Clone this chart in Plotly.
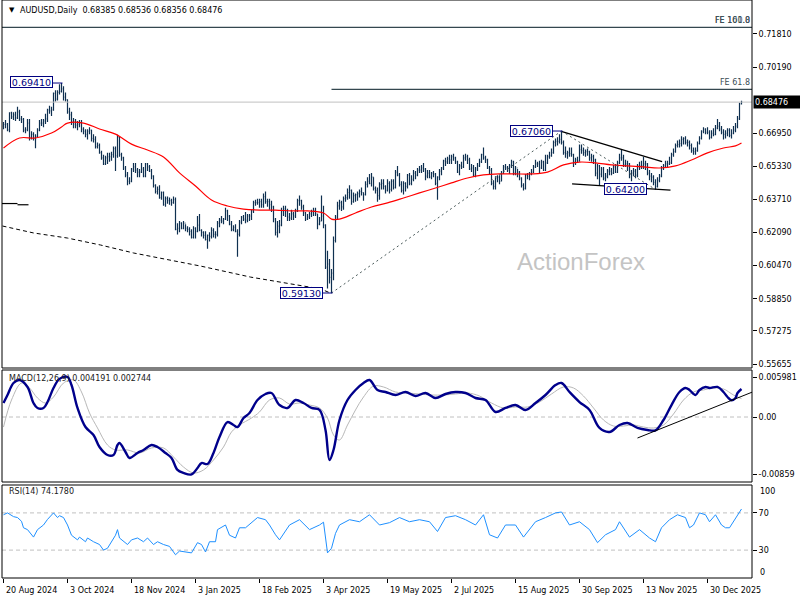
import plotly.graph_objects as go

# ---------------- data (prices in pips, 1 pip = 0.0001) ----------------
x_label_bars = [0, 32, 64, 96, 128, 160, 192, 224, 256, 288, 320, 352]
x_labels = ["20 Aug 2024", "3 Oct 2024", "18 Nov 2024", "3 Jan 2025", "18 Feb 2025",
            "3 Apr 2025", "19 May 2025", "2 Jul 2025", "15 Aug 2025", "30 Sep 2025",
            "13 Nov 2025", "30 Dec 2025"]

first_open = 6730
close = [6738, 6740, 6712, 6795, 6775, 6785, 6770, 6800, 6765, 6763,
         6710, 6712, 6745, 6675, 6690, 6670, 6680, 6710, 6745, 6745,
         6755, 6765, 6810, 6805, 6810, 6890, 6862, 6895, 6900, 6912,
         6872, 6860, 6800, 6785, 6750, 6740, 6735, 6740, 6745, 6715,
         6705, 6690, 6705, 6710, 6670, 6665, 6630, 6635, 6600, 6575,
         6545, 6575, 6580, 6580, 6590, 6620, 6585, 6675, 6590, 6575,
         6525, 6490, 6460, 6460, 6520, 6530, 6515, 6505, 6505, 6520,
         6485, 6545, 6530, 6510, 6485, 6440, 6410, 6420, 6380, 6405,
         6345, 6375, 6365, 6365, 6355, 6370, 6225, 6230, 6255, 6230,
         6255, 6230, 6225, 6215, 6185, 6230, 6215, 6245, 6220, 6210,
         6195, 6175, 6195, 6190, 6220, 6200, 6200, 6255, 6270, 6265,
         6275, 6315, 6290, 6250, 6225, 6235, 6215, 6200, 6260, 6285,
         6275, 6270, 6290, 6290, 6315, 6355, 6355, 6355, 6360, 6345,
         6385, 6360, 6360, 6345, 6335, 6275, 6210, 6240, 6245, 6315,
         6325, 6315, 6285, 6280, 6300, 6290, 6315, 6365, 6365, 6335,
         6305, 6275, 6285, 6300, 6310, 6315, 6300, 6250, 6265, 6290,
         6245, 6040, 6055, 5990, 6010, 6170, 6285, 6340, 6355, 6335,
         6375, 6380, 6405, 6415, 6360, 6390, 6395, 6400, 6410, 6405,
         6395, 6445, 6460, 6450, 6480, 6425, 6415, 6390, 6445, 6450,
         6435, 6415, 6450, 6420, 6460, 6430, 6505, 6490, 6445, 6415,
         6450, 6435, 6490, 6450, 6470, 6500, 6490, 6515, 6515, 6525,
         6520, 6485, 6500, 6480, 6500, 6495, 6450, 6480, 6510, 6525,
         6560, 6555, 6570, 6565, 6580, 6575, 6555, 6505, 6535, 6530,
         6575, 6580, 6565, 6520, 6525, 6490, 6520, 6535, 6555, 6590,
         6575, 6565, 6525, 6515, 6450, 6435, 6475, 6480, 6460, 6500,
         6530, 6525, 6515, 6535, 6555, 6500, 6525, 6505, 6475, 6440,
         6425, 6490, 6485, 6495, 6505, 6530, 6545, 6545, 6525, 6555,
         6515, 6550, 6580, 6585, 6600, 6650, 6655, 6655, 6665, 6650,
         6600, 6595, 6600, 6595, 6590, 6555, 6565, 6560, 6615, 6610,
         6600, 6605, 6605, 6575, 6580, 6565, 6500, 6535, 6495, 6520,
         6475, 6485, 6510, 6510, 6500, 6530, 6505, 6550, 6575, 6575,
         6540, 6545, 6545, 6495, 6500, 6510, 6490, 6535, 6535, 6535,
         6545, 6545, 6500, 6485, 6480, 6455, 6435, 6465, 6485, 6525,
         6535, 6545, 6545, 6550, 6590, 6605, 6635, 6640, 6645, 6665,
         6670, 6650, 6650, 6635, 6610, 6605, 6610, 6645, 6670, 6705,
         6715, 6700, 6700, 6675, 6695, 6690, 6720, 6730, 6715, 6700,
         6690, 6695, 6710, 6685, 6695, 6710, 6730, 6765, 6838.5, 6847.6]
high = [6750, 6760, 6745, 6798, 6800, 6798, 6800, 6825, 6810, 6780,
        6770, 6725, 6765, 6765, 6705, 6700, 6690, 6720, 6760, 6765,
        6765, 6790, 6815, 6830, 6825, 6895, 6905, 6905, 6935, 6941,
        6925, 6895, 6860, 6820, 6800, 6770, 6765, 6755, 6760, 6760,
        6725, 6715, 6715, 6725, 6712, 6690, 6680, 6650, 6645, 6610,
        6590, 6585, 6600, 6600, 6605, 6630, 6630, 6688, 6680, 6600,
        6580, 6535, 6505, 6480, 6525, 6550, 6550, 6525, 6520, 6550,
        6530, 6550, 6550, 6540, 6520, 6490, 6445, 6435, 6440, 6410,
        6410, 6385, 6385, 6380, 6375, 6385, 6380, 6255, 6265, 6260,
        6265, 6250, 6240, 6235, 6225, 6240, 6235, 6290, 6300, 6225,
        6215, 6215, 6200, 6210, 6235, 6230, 6215, 6265, 6280, 6290,
        6280, 6330, 6320, 6295, 6265, 6245, 6250, 6225, 6270, 6290,
        6295, 6310, 6300, 6300, 6320, 6365, 6370, 6375, 6375, 6375,
        6400, 6410, 6375, 6375, 6365, 6340, 6280, 6265, 6270, 6330,
        6340, 6340, 6325, 6305, 6320, 6310, 6325, 6375, 6390, 6370,
        6345, 6310, 6300, 6310, 6320, 6330, 6330, 6300, 6285, 6390,
        6340, 6250, 6120, 6080, 6030, 6190, 6295, 6360, 6370, 6365,
        6385, 6395, 6425, 6440, 6420, 6405, 6400, 6410, 6420, 6430,
        6405, 6460, 6480, 6495, 6500, 6480, 6435, 6430, 6455, 6470,
        6470, 6440, 6470, 6460, 6470, 6470, 6515, 6535, 6500, 6460,
        6460, 6455, 6495, 6500, 6490, 6515, 6510, 6525, 6535, 6540,
        6550, 6525, 6515, 6515, 6505, 6510, 6500, 6485, 6520, 6530,
        6565, 6575, 6580, 6590, 6590, 6595, 6580, 6560, 6545, 6555,
        6590, 6595, 6590, 6575, 6545, 6540, 6530, 6550, 6570, 6595,
        6625, 6585, 6570, 6535, 6525, 6465, 6485, 6490, 6490, 6510,
        6540, 6545, 6535, 6545, 6565, 6560, 6535, 6520, 6510, 6480,
        6450, 6495, 6500, 6505, 6520, 6540, 6565, 6555, 6560, 6565,
        6560, 6590, 6590, 6605, 6620, 6660, 6670, 6675, 6690, 6706,
        6660, 6630, 6610, 6625, 6625, 6595, 6575, 6580, 6640, 6640,
        6625, 6615, 6620, 6610, 6595, 6590, 6570, 6545, 6540, 6530,
        6530, 6500, 6520, 6530, 6525, 6540, 6545, 6560, 6595, 6617,
        6590, 6565, 6560, 6550, 6515, 6525, 6520, 6545, 6555, 6560,
        6580, 6560, 6550, 6515, 6500, 6490, 6470, 6480, 6495, 6535,
        6545, 6560, 6560, 6580, 6600, 6620, 6645, 6660, 6665, 6680,
        6675, 6680, 6665, 6660, 6645, 6625, 6625, 6655, 6680, 6710,
        6725, 6720, 6725, 6710, 6710, 6720, 6735, 6765, 6750, 6730,
        6715, 6710, 6720, 6720, 6715, 6730, 6745, 6780, 6845, 6853.6]
low = [6715, 6720, 6705, 6700, 6765, 6760, 6755, 6765, 6755, 6745,
       6700, 6695, 6705, 6660, 6665, 6660, 6622, 6675, 6705, 6730,
       6725, 6740, 6750, 6790, 6780, 6805, 6850, 6855, 6885, 6895,
       6855, 6850, 6790, 6760, 6735, 6720, 6720, 6710, 6725, 6700,
       6690, 6675, 6665, 6690, 6655, 6650, 6620, 6620, 6595, 6565,
       6540, 6540, 6545, 6555, 6560, 6575, 6510, 6575, 6580, 6560,
       6515, 6480, 6440, 6445, 6455, 6505, 6500, 6480, 6480, 6500,
       6480, 6480, 6510, 6505, 6470, 6430, 6400, 6395, 6375, 6370,
       6340, 6335, 6350, 6345, 6340, 6350, 6220, 6200, 6210, 6225,
       6225, 6215, 6210, 6195, 6180, 6180, 6180, 6210, 6215, 6190,
       6180, 6170, 6130, 6165, 6180, 6185, 6180, 6190, 6235, 6255,
       6250, 6270, 6265, 6245, 6215, 6215, 6210, 6090, 6190, 6250,
       6265, 6255, 6260, 6265, 6270, 6305, 6340, 6345, 6330, 6330,
       6330, 6350, 6335, 6320, 6310, 6260, 6195, 6185, 6205, 6240,
       6290, 6285, 6265, 6265, 6270, 6270, 6280, 6310, 6340, 6320,
       6290, 6265, 6270, 6275, 6285, 6290, 6290, 6225, 6245, 6265,
       6230, 6030, 5935, 5960, 5913, 5975, 6160, 6270, 6320, 6315,
       6320, 6360, 6370, 6375, 6345, 6355, 6360, 6365, 6380, 6390,
       6365, 6390, 6430, 6445, 6435, 6415, 6400, 6360, 6370, 6420,
       6420, 6400, 6410, 6400, 6410, 6420, 6425, 6485, 6435, 6405,
       6395, 6410, 6425, 6440, 6440, 6460, 6470, 6485, 6500, 6500,
       6505, 6465, 6475, 6475, 6470, 6480, 6440, 6370, 6465, 6490,
       6515, 6535, 6545, 6545, 6545, 6560, 6545, 6500, 6490, 6520,
       6525, 6560, 6545, 6515, 6505, 6485, 6480, 6510, 6530, 6550,
       6565, 6550, 6520, 6495, 6440, 6420, 6420, 6455, 6445, 6460,
       6495, 6515, 6505, 6495, 6525, 6490, 6490, 6480, 6465, 6430,
       6415, 6420, 6470, 6465, 6490, 6500, 6525, 6530, 6500, 6520,
       6510, 6510, 6545, 6570, 6580, 6595, 6630, 6635, 6645, 6640,
       6590, 6575, 6570, 6580, 6580, 6530, 6540, 6550, 6555, 6595,
       6585, 6580, 6585, 6560, 6555, 6545, 6485, 6470, 6440, 6480,
       6465, 6460, 6475, 6490, 6490, 6495, 6500, 6500, 6545, 6560,
       6530, 6530, 6510, 6475, 6460, 6485, 6475, 6480, 6515, 6520,
       6520, 6515, 6490, 6465, 6455, 6440, 6420, 6430, 6455, 6480,
       6515, 6525, 6530, 6540, 6545, 6580, 6600, 6625, 6625, 6630,
       6640, 6640, 6630, 6615, 6600, 6590, 6590, 6605, 6640, 6665,
       6695, 6690, 6690, 6665, 6670, 6680, 6685, 6715, 6705, 6690,
       6665, 6670, 6680, 6675, 6670, 6690, 6700, 6720, 6760, 6835.6]

# red moving average (read at sampled bars)
ma_idx = [0, 8, 16, 24, 29, 32, 40, 48, 56, 64, 72, 80, 88, 96, 104, 112, 120, 128, 136, 144,
          152, 160, 164, 168, 176, 184, 192, 200, 208, 216, 224, 232, 240, 248, 256, 264, 272,
          280, 288, 296, 304, 312, 320, 328, 336, 344, 352, 360, 366, 369]
ma_val = [6623, 6672, 6672, 6696, 6726, 6745, 6745, 6716, 6691, 6642, 6613, 6579, 6501, 6437,
          6368, 6339, 6324, 6319, 6319, 6315, 6315, 6305, 6275, 6275, 6305, 6334, 6354, 6378,
          6403, 6427, 6452, 6476, 6491, 6496, 6496, 6496, 6505, 6540, 6554, 6550, 6540, 6535,
          6530, 6525, 6535, 6564, 6599, 6623, 6633, 6647]

# black dashed curve on the left
dash_idx = [-0.5, 15, 32, 48.5, 65, 78.5, 98.5, 123.5, 143.5, 158.5, 163]
dash_val = [6241, 6207, 6182, 6148, 6109, 6084, 6045, 5991, 5957, 5933, 5915]

# fibonacci expansion points (bar, price)
fe_bars = [164, 279, 326]
fe_prices = [0.5913, 0.6706, 0.6420]
fe_ratios = [0.618, 1.0]
fe_start_bar = [164, -0.75]

# trendlines (bar0, price0, bar1, price1)
resist_line = [279.3, 0.6703, 329.3, 0.6556]
support_line = [284.3, 0.6447, 333.5, 0.6417]
left_line_a = [-0.75, 0.6351, 7, 0.6351]
left_line_b = [7, 0.6345, 12.5, 0.6345]
macd_trend = [317, -0.00314, 374.5, 0.00374]

# price labels: text, bar centre, price centre, connector (bar0, bar1, price)
lab_text = ["0.69410", "0.67060", "0.64200", "0.59130"]
lab_bar = [13.75, 263.75, 310.75, 148.75]
lab_price = [0.69436, 0.67040, 0.64200, 0.59110]
lab_conn = [(24.5, 29.5, 0.6941), (274.5, 279.5, 0.6706), None, (159.5, 164.5, 0.5913)]

# MACD (read at sampled bars)
macd_idx = [0, 2, 5, 8, 12, 15, 17, 20, 22, 25, 28, 32, 34, 37, 41, 45, 48, 52, 55, 57,
            58, 61, 63, 67, 70, 74, 77, 81, 84, 87, 90, 94, 97, 99, 102, 105, 108, 112, 115, 117,
            120, 123, 127, 131, 134, 138, 142, 146, 150, 154, 158, 161, 163, 165, 168, 172, 176, 180, 183, 187,
            191, 196, 201, 206, 211, 216, 221, 226, 231, 236, 241, 246, 251, 256, 261, 266, 271, 276, 279, 283,
            288, 293, 298, 303, 308, 312, 317, 322, 326, 330, 334, 338, 341, 343, 346, 348, 351, 353, 357, 360,
            362, 364, 366, 367, 369]
macd_val = [0.00209, 0.00329, 0.00508, 0.00553, 0.00449, 0.00209, 0.00135, 0.00135, 0.00224, 0.00434,
            0.0057, 0.005981, 0.00478, 0.00135, -0.00150, -0.00269, -0.00449, -0.00568, -0.00568, -0.00419,
            -0.00389, -0.00523, -0.00613, -0.00538, -0.00493, -0.00419, -0.00449, -0.00538, -0.00613, -0.00792,
            -0.00837, -0.00859, -0.00762, -0.00688, -0.00703, -0.00538, -0.00299, -0.00075, -0.00120, -0.00150,
            -0.00015, 0.00060, 0.00254, 0.00344, 0.00359, 0.00179, 0.00135, 0.00254, 0.00209, 0.00135,
            0.00105, -0.00194, -0.00643, -0.00493, -0.00045, 0.00254, 0.00404, 0.00508, 0.00553, 0.00404,
            0.00374, 0.00329, 0.00374, 0.00314, 0.00359, 0.00284, 0.00344, 0.00374, 0.00359, 0.00284,
            0.00254, 0.00075, 0.00135, 0.00179, 0.00105, 0.00209, 0.00329, 0.00478, 0.00508, 0.00374,
            0.00224, 0.00105, -0.00164, -0.00224, -0.00120, -0.00090, -0.00164, -0.00194, -0.00200, -0.00045,
            0.00179, 0.00374, 0.00434, 0.00404, 0.00329, 0.00404, 0.00449, 0.00434, 0.00449, 0.00374,
            0.00299, 0.00250, 0.00284, 0.00359, 0.004191]
sig_idx = [0, 4, 9, 13, 17, 21, 25, 30, 35, 39, 43, 47, 52, 56, 62, 68, 74, 80, 85, 90,
           95, 100, 105, 110, 114, 118, 124, 128, 133, 138, 143, 148, 153, 158, 162, 165, 168, 172, 176, 180,
           185, 190, 196, 202, 208, 214, 220, 226, 232, 238, 244, 250, 256, 262, 268, 274, 280, 285, 290, 295,
           300, 305, 310, 315, 320, 325, 330, 335, 340, 345, 350, 355, 360, 365, 369]
sig_val = [-0.00150, 0.00254, 0.00508, 0.00434, 0.00284, 0.00209, 0.00299, 0.00508, 0.00553, 0.00374,
           0.00060, -0.00164, -0.00419, -0.00493, -0.00493, -0.00538, -0.00463, -0.00463, -0.00598, -0.00748,
           -0.00837, -0.00792, -0.00643, -0.00449, -0.00224, -0.00120, -0.00015, 0.00075, 0.00254, 0.00284,
           0.00194, 0.00209, 0.00179, 0.00135, -0.00015, -0.00269, -0.00344, -0.00120, 0.00105, 0.00299,
           0.00463, 0.00449, 0.00374, 0.00359, 0.00344, 0.00329, 0.00329, 0.00344, 0.00359, 0.00314,
           0.00209, 0.00135, 0.00150, 0.00150, 0.00224, 0.00344, 0.00449, 0.00434, 0.00314, 0.00135,
           -0.00045, -0.00135, -0.00135, -0.00120, -0.00150, -0.00164, -0.00120, 0.00045, 0.00254, 0.00374,
           0.00404, 0.00434, 0.00419, 0.00329, 0.002744]

# RSI(14) (read at sampled bars)
rsi_idx = [0, 2, 5, 7, 9, 10, 12, 15, 17, 20, 22, 25, 27, 28, 30, 32, 34, 37, 38, 41,
           42, 45, 48, 50, 52, 54, 56, 57, 58, 62, 64, 67, 70, 72, 75, 77, 80, 83, 86, 88,
           92, 94, 97, 99, 101, 103, 106, 107, 111, 113, 116, 118, 121, 124, 127, 131, 133, 136, 138, 143,
           148, 153, 158, 160, 162, 164, 166, 168, 173, 178, 183, 188, 193, 198, 203, 208, 213, 217, 221, 226,
           231, 236, 240, 243, 247, 251, 256, 260, 266, 271, 276, 279, 283, 288, 293, 297, 301, 306, 308, 313,
           318, 323, 326, 329, 333, 337, 341, 343, 345, 348, 351, 353, 356, 359, 361, 363, 365, 367, 369]
rsi_val = [68, 70, 66, 65, 61, 54, 52, 44, 52, 57, 63, 70, 65, 67, 65, 57, 46, 41, 44, 39,
           43, 39, 36, 30, 32, 39, 46, 52, 43, 36, 41, 43, 39, 43, 36, 39, 36, 34, 25, 29,
           28, 27, 38, 36, 28, 39, 39, 52, 57, 46, 43, 54, 54, 59, 65, 62.7, 57, 46.5, 41, 57,
           62.7, 52, 57, 60, 27, 32, 48, 57, 62.7, 60.5, 68, 57, 59.5, 65, 60.5, 62.7, 60.5, 50, 65, 67,
           62.7, 57, 68, 46.5, 43, 57, 57, 44, 60.5, 65, 70, 71, 57, 60.5, 52, 38, 46.5, 52, 60.5, 44,
           52, 43, 39, 54, 62.7, 68, 65, 54, 57, 70, 68, 60.5, 68, 57, 54, 54, 60.5, 68, 74.178]

main_ticks = [0.71810, 0.70190, 0.66950, 0.65330, 0.63710, 0.62090, 0.60470, 0.58850, 0.57275, 0.55655]
macd_ticks = [0.005981, 0.0, -0.00859]
macd_ticktext = ["0.005981", "0.00", "-0.00859"]
title_text = "AUDUSD,Daily  0.68385 0.68536 0.68356 0.68476"
macd_text = "MACD(12,26,9) 0.004191 0.002744"
rsi_text = "RSI(14) 74.1780"

# ---------------- build ----------------
PIP = 0.0001
c = [v * PIP for v in close]
h = [v * PIP for v in high]
lo = [v * PIP for v in low]
o = [first_open * PIP] + c[:-1]
idx = list(range(len(c)))

BAR = "#0f3050"
FONT = "DejaVu Sans"
XR = [-0.75, 374.25]


def py(ypix):
    return (578 - ypix) / 578.0


fig = go.Figure()
fig.add_trace(go.Ohlc(x=idx, open=o, high=h, low=lo, close=c, tickwidth=0.35,
                      increasing=dict(line=dict(color=BAR, width=1.2)),
                      decreasing=dict(line=dict(color=BAR, width=1.2)),
                      hoverinfo="skip", xaxis="x", yaxis="y"))


def line(xs, ys, color, width=1, dash="solid", yaxis="y", shape="linear"):
    fig.add_trace(go.Scatter(x=xs, y=ys, mode="lines", hoverinfo="skip",
                             line=dict(color=color, width=width, dash=dash, shape=shape),
                             xaxis="x", yaxis=yaxis))


# current price line
line(XR, [c[-1], c[-1]], "#c0c0c0")
# moving average
line(ma_idx, [v * PIP for v in ma_val], "#ff0000", 1.2, shape="spline")
# dashed curve
line(dash_idx, [v * PIP for v in dash_val], "#000000", 1, dash="4px,3px")
# FE legs
line(fe_bars[:2], fe_prices[:2], "#4a5a5a", 1, dash="2px,3px")
line(fe_bars[1:], fe_prices[1:], "#4a5a5a", 1, dash="2px,3px")
# FE levels
fe_levels = [fe_prices[2] + r * (fe_prices[1] - fe_prices[0]) for r in fe_ratios]
for lvl, sb in zip(fe_levels, fe_start_bar):
    line([sb, XR[1]], [lvl, lvl], "#34474f", 1.2)
# trendlines
for tl in (resist_line, support_line, left_line_a, left_line_b):
    line([tl[0], tl[2]], [tl[1], tl[3]], "#000000", 1.2)
# label connectors
for cn in lab_conn:
    if cn:
        line([cn[0], cn[1]], [cn[2], cn[2]], "#000080", 1)

# MACD panel
line(XR, [0, 0], "#c0c0c0", 1, dash="4px,3px", yaxis="y2")
line(sig_idx, sig_val, "#b8b8b8", 1, yaxis="y2", shape="spline")
line(macd_idx, macd_val, "#00008b", 2.4, yaxis="y2", shape="spline")
line([macd_trend[0], macd_trend[2]], [macd_trend[1], macd_trend[3]], "#000000", 1, yaxis="y2")

# RSI panel
line(XR, [70, 70], "#c0c0c0", 1, dash="4px,3px", yaxis="y3")
line(XR, [30, 30], "#c0c0c0", 1, dash="4px,3px", yaxis="y3")
line(rsi_idx, rsi_val, "#1e90ff", 1, yaxis="y3")

ann = []
# title
ann.append(dict(xref="paper", yref="paper", x=0, xshift=5, y=py(10), xanchor="left", yanchor="middle",
                text="▼", showarrow=False, font=dict(family=FONT, size=7, color="black")))
ann.append(dict(xref="paper", yref="paper", x=0, xshift=16, y=py(10), xanchor="left", yanchor="middle",
                text=title_text, showarrow=False, font=dict(family=FONT, size=8, color="black")))
ann.append(dict(xref="paper", yref="paper", x=0, xshift=5, y=py(378), xanchor="left", yanchor="middle",
                text=macd_text, showarrow=False, font=dict(family=FONT, size=8, color="#202020")))
ann.append(dict(xref="paper", yref="paper", x=0, xshift=5, y=py(492), xanchor="left", yanchor="middle",
                text=rsi_text, showarrow=False, font=dict(family=FONT, size=8, color="#202020")))
# watermark
ann.append(dict(xref="x", yref="y", x=288.5, y=0.6065, text="ActionForex", showarrow=False,
                font=dict(family="Liberation Sans", size=24, color="#c4c4c4")))
# FE labels
fe_names = [["FE 61.8"], ["FE 100.0", "FE 161.8"]]
for lvl, names in zip(fe_levels, fe_names):
    for nm in names:
        ann.append(dict(xref="paper", yref="y", x=1, y=lvl, xanchor="right", yanchor="bottom",
                        yshift=0, text=nm, showarrow=False,
                        font=dict(family=FONT, size=8, color="#3c4e56")))
# price labels
for t, b, p in zip(lab_text, lab_bar, lab_price):
    ann.append(dict(xref="x", yref="y", x=b, y=p, text=t, showarrow=False, width=41, height=10,
                    bgcolor="white", bordercolor="#000080", borderwidth=1, borderpad=0,
                    font=dict(family=FONT, size=9.5, color="#000080")))
# current price box
ann.append(dict(xref="paper", yref="y", x=1, xshift=1, y=c[-1], xanchor="left", yanchor="middle",
                text="0.68476", showarrow=False, bgcolor="black", width=46, height=10, align="left",
                borderpad=1, font=dict(family=FONT, size=8, color="white")))
# RSI extreme labels
ann.append(dict(xref="paper", yref="paper", x=1, xshift=6, y=py(491), xanchor="left", yanchor="middle",
                text="100", showarrow=False, font=dict(family=FONT, size=8, color="black")))
ann.append(dict(xref="paper", yref="paper", x=1, xshift=6, y=py(572), xanchor="left", yanchor="middle",
                text="0", showarrow=False, font=dict(family=FONT, size=8, color="black")))
# x labels
for b, t in zip(x_label_bars, x_labels):
    ann.append(dict(xref="x", yref="paper", x=b, y=py(590), xanchor="left", yanchor="middle",
                    text=t, showarrow=False, font=dict(family=FONT, size=8, color="black")))

frames = [(py(368), 1.0), (py(482), py(370)), (0.0, py(485))]
shapes = [dict(type="rect", xref="paper", yref="paper", x0=0, x1=1, y0=a, y1=b,
               line=dict(color="black", width=1), fillcolor="rgba(0,0,0,0)", layer="above")
          for a, b in frames]

yax = dict(side="right", anchor="x", showgrid=False, zeroline=False, showline=False,
           ticks="outside", ticklen=4, tickcolor="black", tickwidth=1, automargin=False,
           tickfont=dict(family=FONT, size=8, color="black"), fixedrange=True)

fig.update_layout(
    width=800, height=600, margin=dict(l=2, r=48, t=0, b=22),
    paper_bgcolor="white", plot_bgcolor="white", showlegend=False,
    xaxis=dict(domain=[0, 1], range=XR, anchor="y3", showgrid=False, zeroline=False,
               showline=False, ticks="outside", ticklen=4, tickcolor="black",
               tickvals=x_label_bars, showticklabels=False, automargin=False,
               rangeslider=dict(visible=False), fixedrange=True),
    yaxis=dict(domain=[py(368), 1], range=[0.55459, 0.73474], tickvals=main_ticks,
               ticktext=["%.5f" % v for v in main_ticks], **yax),
    yaxis2=dict(domain=[py(482), py(370)], range=[-0.009718, 0.007027], tickvals=macd_ticks,
                ticktext=macd_ticktext, **yax),
    yaxis3=dict(domain=[0, py(485)], range=[0, 100], tickvals=[70, 30], ticktext=["70", "30"], **yax),
    annotations=ann, shapes=shapes,
)

fig.write_html("out.html", config={"displayModeBar": False},
               post_script="document.body.style.margin='0';document.body.style.overflow='hidden';")
